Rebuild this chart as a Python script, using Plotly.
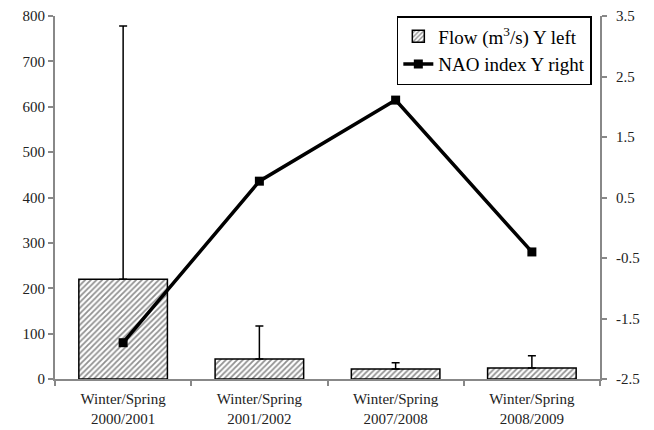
import plotly.graph_objects as go

categories = ["Winter/Spring<br>2000/2001", "Winter/Spring<br>2001/2002",
              "Winter/Spring<br>2007/2008", "Winter/Spring<br>2008/2009"]
flow = [220, 44, 22, 24]
flow_err = [558, 73, 14, 27]
nao = [-1.9, 0.77, 2.11, -0.40]

left_ticks = [0, 100, 200, 300, 400, 500, 600, 700, 800]
right_ticks = [-2.5, -1.5, -0.5, 0.5, 1.5, 2.5, 3.5]

font = dict(family="Liberation Serif, Times New Roman, serif", size=15, color="#222")

fig = go.Figure()
fig.add_trace(go.Bar(
    x=categories, y=flow, name="Flow (m<sup>3</sup>/s) Y left",
    width=0.65,
    marker=dict(color="white", line=dict(color="black", width=1.5),
                pattern=dict(shape="/", fgcolor="#222", bgcolor="white", size=4, solidity=0.45)),
    error_y=dict(type="data", array=flow_err, arrayminus=[0]*4, symmetric=False,
                 color="black", thickness=1.5, width=4),
))
fig.add_trace(go.Scatter(
    x=categories, y=nao, name="NAO index Y right", yaxis="y2",
    mode="lines+markers",
    line=dict(color="black", width=3.5),
    marker=dict(symbol="square", size=9, color="black"),
))

axis_common = dict(showline=True, linecolor="#888", linewidth=2, ticks="outside",
                   tickcolor="#888", tickwidth=1.5, ticklen=5, showgrid=False,
                   zeroline=False, tickfont=font, automargin=False)

# the page body has an 8px margin, so the figure is drawn 8px right/down
fig.update_layout(
    width=646, height=422,
    margin=dict(l=47, r=54, t=8, b=51),
    paper_bgcolor="white", plot_bgcolor="white",
    font=font,
    xaxis=dict(**axis_common, tickson="boundaries", ticklabelstandoff=5),
    yaxis=dict(**axis_common, range=[0, 800], tickvals=left_ticks),
    yaxis2=dict(**axis_common, overlaying="y", side="right", range=[-2.5, 3.5],
                tickvals=right_ticks, ticktext=[str(v) for v in right_ticks],
                ticklabelstandoff=6),
    legend=dict(x=0.985, y=1.0, xanchor="right", yanchor="top",
                bordercolor="black", borderwidth=1.5, bgcolor="white",
                font=dict(family="Liberation Serif, Times New Roman, serif", size=19, color="black"),
                tracegroupgap=0, itemwidth=30),
    showlegend=True,
)

fig.write_html("out.html")
